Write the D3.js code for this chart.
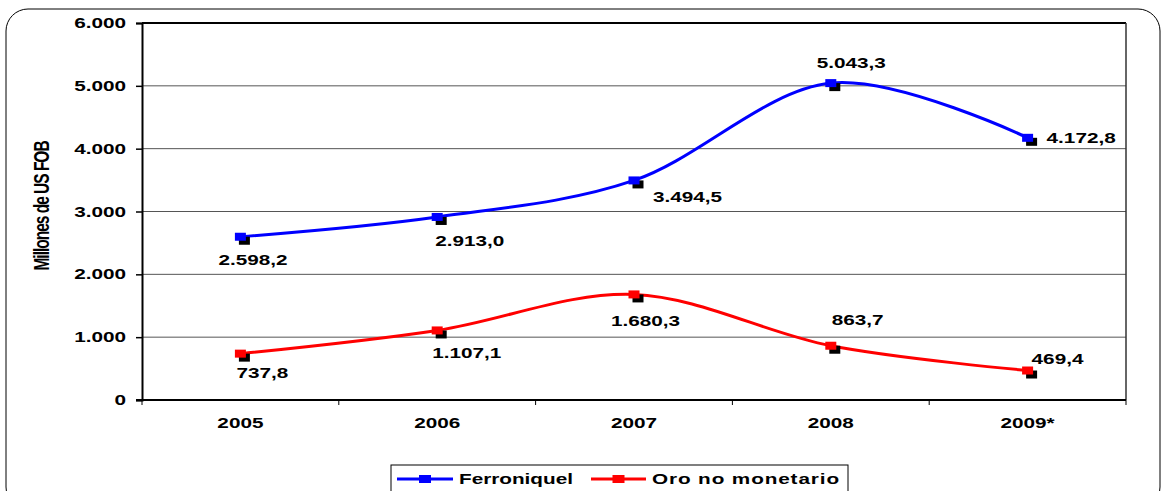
<!DOCTYPE html>
<html>
<head>
<meta charset="utf-8">
<script src="https://cdn.jsdelivr.net/npm/d3@7"></script>
<style>
  body { margin: 0; background: #fff; }
  text { font-family: "Liberation Sans", Arial, sans-serif; font-weight: bold; font-size: 14px; fill: #000; }
</style>
</head>
<body>
<div id="chart"></div>
<script>
var years = ['2005', '2006', '2007', '2008', '2009*'];
var ferroniquel = [2598.2, 2913.0, 3494.5, 5043.3, 4172.8];
var oro = [737.8, 1107.1, 1680.3, 863.7, 469.4];
var yTicks = [0, 1000, 2000, 3000, 4000, 5000, 6000];
var seriesNames = ['Ferroniquel', 'Oro no monetario'];

// where Excel put each data label, relative to its marker
var ferroLabelOff = [[-22, 28], [-2, 29], [19, 22], [-14, -15], [19, 5]];
var oroLabelOff = [[-4, 24], [-5, 28], [-23, 32], [1, -21], [4, -7]];

var W = 1162, H = 491;
var plot = {left: 142, right: 1126, top: 23, bottom: 400};
var SX = 1.48; // the original picture is stretched sideways

var loc = d3.formatLocale({decimal: ',', thousands: '.', grouping: [3], currency: ['', '']});
var fmtVal = loc.format(',.1f'),
    fmtTick = loc.format(',.0f');

var svg = d3.select('#chart')
    .append('svg')
    .attr('width', W)
    .attr('height', H);

var xScale = d3.scaleBand()
    .domain(years)
    .range([plot.left, plot.right])
    .padding(0);

var yScale = d3.scaleLinear()
    .domain([0, 6000])
    .range([plot.bottom, plot.top]);

function stext(parent, x, y, str, anchor) {
    return parent.append('text')
        .attr('transform', 'translate(' + x + ',' + y + ') scale(' + SX + ',1)')
        .attr('text-anchor', anchor || 'start')
        .text(str);
}

// outer rounded frame
svg.append('rect')
    .attr('x', 6).attr('y', 9)
    .attr('width', 1154).attr('height', 500)
    .attr('rx', 22).attr('ry', 22)
    .attr('fill', 'none')
    .attr('stroke', '#000')
    .attr('stroke-width', 1);

// gridlines
svg.append('g').selectAll('line')
    .data(yTicks.filter(function(d) { return d > 0 && d < 6000; }))
    .enter().append('line')
    .attr('x1', plot.left).attr('x2', plot.right)
    .attr('y1', function(d) { return yScale(d); })
    .attr('y2', function(d) { return yScale(d); })
    .attr('stroke', '#555')
    .attr('stroke-width', 1);

// plot border top / right
svg.append('line')
    .attr('x1', plot.left).attr('x2', plot.right)
    .attr('y1', yScale(6000)).attr('y2', yScale(6000))
    .attr('stroke', '#000').attr('stroke-width', 2);
svg.append('line')
    .attr('x1', plot.right).attr('x2', plot.right)
    .attr('y1', plot.top).attr('y2', plot.bottom)
    .attr('stroke', '#333').attr('stroke-width', 1.5);

// y axis
var yAxis = d3.axisLeft(yScale)
    .tickValues(yTicks)
    .tickSize(6)
    .tickFormat('');
var gy = svg.append('g')
    .attr('transform', 'translate(' + plot.left + ',0)')
    .call(yAxis);
gy.select('.domain').attr('stroke', '#000').attr('stroke-width', 2);
gy.selectAll('.tick line').attr('stroke', '#000').attr('stroke-width', 1.5);
yTicks.forEach(function(t) {
    stext(svg, 126, yScale(t) + 5, fmtTick(t), 'end');
});

// x axis: ticks sit on category boundaries
var gx = svg.append('g')
    .attr('transform', 'translate(0,' + plot.bottom + ')');
gx.append('line')
    .attr('x1', plot.left - 6).attr('x2', plot.right)
    .attr('stroke', '#000').attr('stroke-width', 2);
gx.selectAll('.xt')
    .data(years.concat(['end']))
    .enter().append('line')
    .attr('class', 'xt')
    .attr('x1', function(d, i) { return i < years.length ? xScale(d) : plot.right; })
    .attr('x2', function(d, i) { return i < years.length ? xScale(d) : plot.right; })
    .attr('y1', 0).attr('y2', 5)
    .attr('stroke', '#000').attr('stroke-width', 1);
years.forEach(function(y) {
    stext(svg, xScale(y) + xScale.bandwidth() / 2, 428, y, 'middle');
});

// y axis title
svg.append('text')
    .attr('transform', 'translate(49,206) scale(' + SX + ',1) rotate(-90)')
    .attr('text-anchor', 'middle')
    .style('font-size', '15.5px')
    .style('letter-spacing', '-1px')
    .text('Millones de US FOB');

var lineFunction = d3.line()
    .curve(d3.curveCardinal.tension(0))
    .x(function(d, i) { return xScale(years[i]) + xScale.bandwidth() / 2; })
    .y(function(d) { return yScale(d); });

function drawSeries(values, color, offs) {
    var g = svg.append('g');
    g.append('path')
        .attr('d', lineFunction(values))
        .attr('fill', 'none')
        .attr('stroke', color)
        .attr('stroke-width', 3);
    values.forEach(function(v, i) {
        var cx = xScale(years[i]) + xScale.bandwidth() / 2,
            cy = yScale(v);
        g.append('rect')
            .attr('x', cx - 5.5 + 4).attr('y', cy - 4 + 4)
            .attr('width', 11).attr('height', 8)
            .attr('fill', '#000');
        g.append('rect')
            .attr('x', cx - 5.5).attr('y', cy - 4)
            .attr('width', 11).attr('height', 8)
            .attr('fill', color);
        stext(g, cx + offs[i][0], cy + offs[i][1], fmtVal(v), 'start');
    });
}

drawSeries(ferroniquel, '#0000ff', ferroLabelOff);
drawSeries(oro, '#ff0000', oroLabelOff);

// legend
var legend = svg.append('g');
legend.append('rect')
    .attr('x', 391).attr('y', 465)
    .attr('width', 457).attr('height', 40)
    .attr('fill', '#fff')
    .attr('stroke', '#000')
    .attr('stroke-width', 1);
var legendItems = [
    {name: seriesNames[0], color: '#0000ff', x: 397, w: 56, ls: 0},
    {name: seriesNames[1], color: '#ff0000', x: 591, w: 55, ls: 0.6}
];
legendItems.forEach(function(d) {
    legend.append('line')
        .attr('x1', d.x).attr('x2', d.x + d.w)
        .attr('y1', 479).attr('y2', 479)
        .attr('stroke', d.color).attr('stroke-width', 3);
    legend.append('rect')
        .attr('x', d.x + d.w / 2 - 6).attr('y', 475)
        .attr('width', 12).attr('height', 8)
        .attr('fill', d.color);
    stext(legend, d.x + d.w + 6, 484, d.name, 'start')
        .style('letter-spacing', d.ls + 'px');
});
</script>
</body>
</html>
